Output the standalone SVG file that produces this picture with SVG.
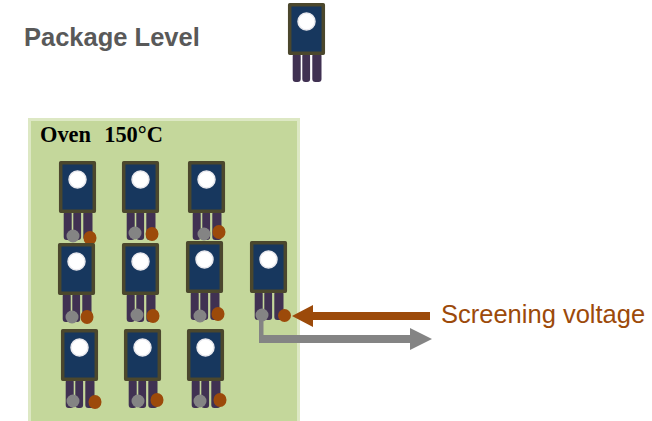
<svg xmlns="http://www.w3.org/2000/svg" xmlns:xlink="http://www.w3.org/1999/xlink" width="652" height="421" viewBox="0 0 652 421">
<style>
.body{fill:#17375e;stroke:#4b472d;stroke-width:3.5;stroke-linejoin:round}
.lead{fill:#403152}
.hole{fill:#fff;stroke:#e9e9ee;stroke-width:1.5}
.g{fill:#848484}
.o{fill:#9c4a0a}
.sans{font-family:"Liberation Sans",Arial,sans-serif}
</style>
<defs>
<g id="dev">
<rect class="lead" x="4.700" y="50" width="8" height="29" rx="3"/>
<rect class="lead" x="14.300" y="50" width="7.800" height="29" rx="3"/>
<rect class="lead" x="24.300" y="50" width="9.200" height="29" rx="3"/>
<rect class="body" x="1.700" y="1.700" width="33.600" height="48.600"/>
<circle class="hole" cx="18.500" cy="18.500" r="8.500"/>
</g>
</defs>
<rect width="652" height="421" fill="#fff"/>
<text class="sans" x="24" y="45.500" font-size="25.500" font-weight="bold" fill="#595959">Package Level</text>
<use id="package" xlink:href="#dev" href="#dev" x="288" y="3"/>
<g id="oven">
<rect x="28" y="118" width="272" height="303" fill="#dde8c4"/>
<rect x="31" y="121" width="266" height="300" fill="#c4d79b"/>
<text x="40" y="142" font-family="'Liberation Serif','Times New Roman',serif" font-size="22.400" font-weight="bold" word-spacing="1" xml:space="preserve" fill="#000">Oven  150°C</text>
</g>
<g id="devices">
<g id="d1"><use href="#dev" x="59" y="161"/><circle class="g" cx="73" cy="236" r="6.500"/><ellipse class="o" cx="90" cy="238" rx="6.500" ry="7"/></g>
<g id="d2"><use href="#dev" x="122" y="161"/><circle class="g" cx="135" cy="233" r="6.500"/><ellipse class="o" cx="152" cy="234" rx="6.500" ry="7"/></g>
<g id="d3"><use href="#dev" x="188" y="161"/><circle class="g" cx="204" cy="234" r="6.500"/><ellipse class="o" cx="219" cy="232" rx="6.500" ry="7"/></g>
<g id="d4"><use href="#dev" x="58" y="243"/><circle class="g" cx="72" cy="317" r="6.500"/><ellipse class="o" cx="87" cy="317" rx="6.500" ry="7"/></g>
<g id="d5"><use href="#dev" x="122" y="243"/><circle class="g" cx="137" cy="315" r="6.500"/><ellipse class="o" cx="153" cy="316" rx="6.500" ry="7"/></g>
<g id="d6"><use href="#dev" x="186" y="241"/><circle class="g" cx="200" cy="316" r="6.500"/><ellipse class="o" cx="218" cy="314" rx="6.500" ry="7"/></g>
<g id="d7"><use href="#dev" x="250" y="241"/></g>
<g id="d8"><use href="#dev" x="61" y="329"/><circle class="g" cx="73" cy="401" r="6.500"/><ellipse class="o" cx="95" cy="402" rx="6.500" ry="7"/></g>
<g id="d9"><use href="#dev" x="124" y="329"/><circle class="g" cx="138" cy="401" r="6.500"/><ellipse class="o" cx="157" cy="400" rx="6.500" ry="7"/></g>
<g id="d10"><use href="#dev" x="187" y="329"/><circle class="g" cx="200" cy="401" r="6.500"/><ellipse class="o" cx="220" cy="400" rx="6.500" ry="7"/></g>
</g>
<g id="connectors">
<path class="g" d="M259 315h4.500v20h146.500v-7l22 11-22 11v-7h-151z"/>
<path class="o" d="M430 312v8h-117v7l-21-11 21-11v7z"/>
<circle class="g" cx="262" cy="315" r="6.500"/>
<circle class="o" cx="284.500" cy="315.500" r="6.500"/>
</g>
<text class="sans" x="441" y="323" font-size="25.500" fill="#9c4a0a">Screening voltage</text>
</svg>
